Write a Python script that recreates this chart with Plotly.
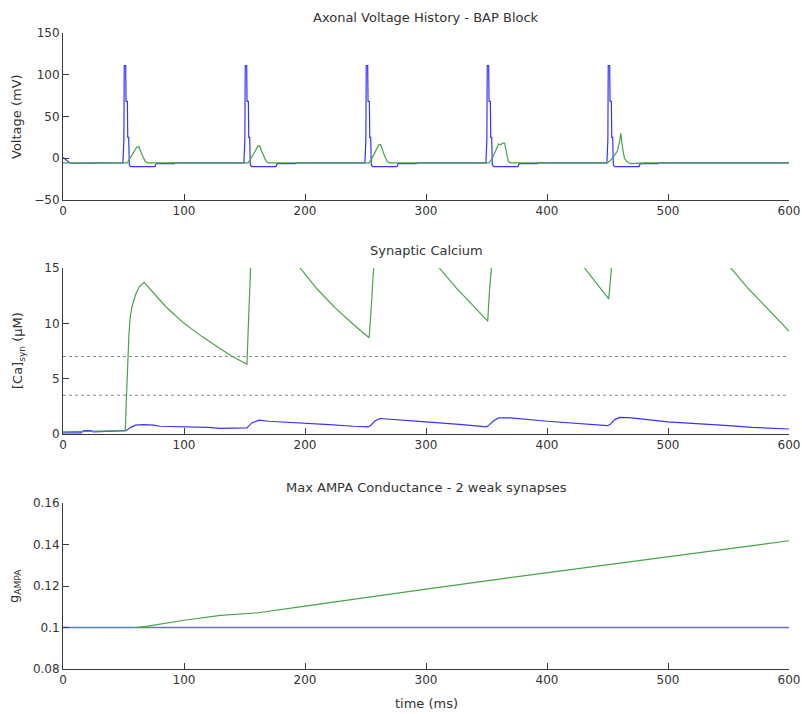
import plotly.graph_objects as go

# ---------------- data ----------------
# Panel 1: axonal voltage (mV)
volt_blue_t = [0, 3, 6, 12, 48.5, 49.5, 50.3, 50.6, 51.8, 52.1, 53.2, 53.5, 54.3, 54.8, 56, 76, 77, 92, 93,
               148.5, 149.5, 150.3, 150.6, 151.8, 152.1, 153.2, 153.5, 154.3, 154.8, 156, 176, 177, 192, 193,
               248.5, 249.5, 250.3, 250.6, 251.8, 252.1, 253.2, 253.5, 254.3, 254.8, 256, 276, 277, 292, 293,
               348.5, 349.5, 350.3, 350.6, 351.8, 352.1, 353.2, 353.5, 354.3, 354.8, 356, 376, 377, 392, 393,
               448.5, 449.5, 450.3, 450.6, 451.8, 452.1, 453.2, 453.5, 454.3, 454.8, 456, 476, 477, 492, 493, 600]
volt_blue_v = [1, -3, -6, -6, -5.5, -5.5, 22, 111, 111, 68, 68, 25, 25, -8, -10, -10, -6.5, -6.5, -5.5,
               -5.5, -5.5, 22, 111, 111, 68, 68, 25, 25, -8, -10, -10, -6.5, -6.5, -5.5,
               -5.5, -5.5, 22, 111, 111, 68, 68, 25, 25, -8, -10, -10, -6.5, -6.5, -5.5,
               -5.5, -5.5, 22, 111, 111, 68, 68, 25, 25, -8, -10, -10, -6.5, -6.5, -5.5,
               -5.5, -5.5, 22, 111, 111, 68, 68, 25, 25, -8, -10, -10, -6.5, -6.5, -5.5, -5.5]

volt_green_t = [0, 53, 55, 57, 59, 61, 62.5, 64, 66, 68, 70,
                153, 155, 157, 159, 161, 162.5, 164, 166, 168, 170,
                253, 255, 257, 259, 261, 262.5, 264, 266, 268, 270,
                352, 354, 356, 358, 360, 362, 363, 365, 366.5, 368, 370,
                450, 453, 456, 458, 460, 461, 462.5, 464, 466, 469, 480, 600]
volt_green_v = [-5.5, -5.5, -1, 4, 8, 13.5, 14, 8, 2, -4, -5.5,
                -5.5, -1, 4, 9, 14.5, 15, 9, 2, -4, -5.5,
                -5.5, -1, 5, 10, 16, 16.5, 10, 2, -4, -5.5,
                -5.5, -2, 4, 10, 17, 16, 18, 18, 8, -4, -5.5,
                -5.5, -2, 4, 8, 20, 30, 12, 0, -4, -6.5, -5.5, -5.5]

# Panel 2: synaptic calcium (uM)
ca_blue_t = [0, 15, 17, 23, 25, 50, 52, 56, 60, 66, 75, 80, 100, 120, 130, 150,
             152, 156, 162, 170, 200, 220, 240, 252, 254, 258, 262, 270, 300, 330, 350,
             352, 356, 360, 370, 400, 430, 450, 452, 456, 460, 470, 500, 530, 550, 570, 600]
ca_blue_v = [0.1, 0.1, 0.3, 0.3, 0.2, 0.3, 0.3, 0.6, 0.8, 0.85, 0.8, 0.7, 0.65, 0.6, 0.5, 0.5,
             0.55, 1.0, 1.25, 1.15, 1.0, 0.85, 0.7, 0.65, 0.75, 1.2, 1.4, 1.35, 1.1, 0.85, 0.65,
             0.8, 1.2, 1.45, 1.45, 1.15, 0.9, 0.75, 0.85, 1.3, 1.5, 1.45, 1.1, 0.85, 0.75, 0.6, 0.45]

ca_green_t = [0, 51.5, 52.5, 53.5, 54.5, 55.5, 57, 60, 63, 67, 75, 85, 100, 115, 130, 140, 152,
              153.5, 155, 158, 162, 175, 196, 210, 225, 240, 253,
              254.5, 256, 260, 264, 280, 300, 311, 325, 340, 351,
              352.5, 354, 358, 364, 400, 431, 441, 451,
              452.5, 454, 460, 500, 552, 565, 580, 600]
ca_green_v = [0.2, 0.3, 3.5, 7, 9, 10.5, 11.5, 12.6, 13.3, 13.7, 12.7, 11.5, 10.0, 8.8, 7.7, 7.0, 6.3,
              10, 15, 20, 22, 19.5, 15, 13.1, 11.4, 9.9, 8.7,
              11, 15, 21, 24, 20.5, 16.6, 15, 13.2, 11.5, 10.2,
              13, 16, 22, 28, 20, 15, 13.6, 12.2,
              14, 16, 24, 35, 15, 13.3, 11.6, 9.3]

ca_thresholds = [7.0, 3.5]

# Panel 3: max AMPA conductance
g_blue_t = [0, 600]
g_blue_v = [0.1, 0.1]
g_green_t = [0, 60, 70, 100, 130, 150, 160, 200, 250, 300, 350, 400, 450, 500, 550, 600]
g_green_v = [0.1, 0.1, 0.1007, 0.1035, 0.1058, 0.1068, 0.107, 0.1103, 0.1145, 0.1185,
             0.1225, 0.1264, 0.1302, 0.134, 0.138, 0.1418]

x_ticks = [0, 100, 200, 300, 400, 500, 600]
y1_ticks = [-50, 0, 50, 100, 150]
y2_ticks = [0, 5, 10, 15]
y3_ticks = [0.08, 0.1, 0.12, 0.14, 0.16]
y3_ticktext = ["0.08", "0.1", "0.12", "0.14", "0.16"]

titles = ["Axonal Voltage History - BAP Block", "Synaptic Calcium",
          "Max AMPA Conductance - 2 weak synapses"]

# ---------------- figure ----------------
W, H = 802, 714
BLUE = "#3535ff"
GREEN = "#47a447"
AX = "#3a3a3a"
FONT = "DejaVu Sans"
TXT = "#333333"

fig = go.Figure()

def add(t, v, color, ax, width=1.2, dash=None):
    fig.add_trace(go.Scatter(x=t, y=v, mode="lines", xaxis="x" + ax, yaxis="y" + ax,
                             line=dict(color=color, width=width, dash=dash),
                             showlegend=False, hoverinfo="skip"))

add(volt_blue_t, volt_blue_v, BLUE, "")
add(volt_green_t, volt_green_v, GREEN, "")
for th in ca_thresholds:
    add([0, 600], [th, th], "#8a8a8a", "2", width=1, dash="dot")
add(ca_blue_t, ca_blue_v, BLUE, "2")
add(ca_green_t, ca_green_v, GREEN, "2")
add(g_blue_t, g_blue_v, "#6a6aff", "3", width=1.6)
add(g_green_t, g_green_v, GREEN, "3")

xd = [63 / W, 789 / W]
doms = [(33, 200), (268, 434), (503, 669)]

def ydom(top, bot):
    return [1 - bot / H, 1 - top / H]

axis_common = dict(showgrid=False, zeroline=False, showline=True, linecolor=AX, linewidth=1,
                   ticks="inside", ticklen=6, tickcolor=AX, tickwidth=1,
                   tickfont=dict(family=FONT, size=12, color=TXT), automargin=False)

layout = dict(width=W, height=H, margin=dict(l=0, r=0, t=0, b=0),
              paper_bgcolor="white", plot_bgcolor="white",
              font=dict(family=FONT, size=12, color=TXT))

for i, (top, bot) in enumerate(doms):
    s = "" if i == 0 else str(i + 1)
    layout["xaxis" + s] = dict(axis_common, domain=xd, range=[0, 600], tickvals=x_ticks,
                               anchor="y" + s)
    layout["yaxis" + s] = dict(axis_common, domain=ydom(top, bot), anchor="x" + s)

layout["yaxis"].update(range=[-50, 150], tickvals=y1_ticks)
layout["yaxis2"].update(range=[0, 15], tickvals=y2_ticks)
layout["yaxis3"].update(range=[0.08, 0.16], tickvals=y3_ticks, ticktext=y3_ticktext)

fig.update_layout(**layout)

ann = []
title_y = [17, 251, 487]
for t, yy in zip(titles, title_y):
    ann.append(dict(text=t, x=426 / W, y=1 - yy / H, xref="paper", yref="paper",
                    showarrow=False, xanchor="center", yanchor="middle",
                    font=dict(family=FONT, size=13, color=TXT)))
ann.append(dict(text="time (ms)", x=426 / W, y=1 - 703 / H, xref="paper", yref="paper",
                showarrow=False, xanchor="center", yanchor="middle",
                font=dict(family=FONT, size=13, color=TXT)))
ylabels = [("Voltage (mV)", 17, 117), ("[Ca]<sub>syn</sub> (μM)", 18, 351),
           ("g<sub>AMPA</sub>", 14, 586)]
for t, xx, yy in ylabels:
    ann.append(dict(text=t, x=xx / W, y=1 - yy / H, xref="paper", yref="paper",
                    showarrow=False, xanchor="center", yanchor="middle", textangle=-90,
                    font=dict(family=FONT, size=13, color=TXT)))
fig.update_layout(annotations=ann)

fig.write_html("out.html")
